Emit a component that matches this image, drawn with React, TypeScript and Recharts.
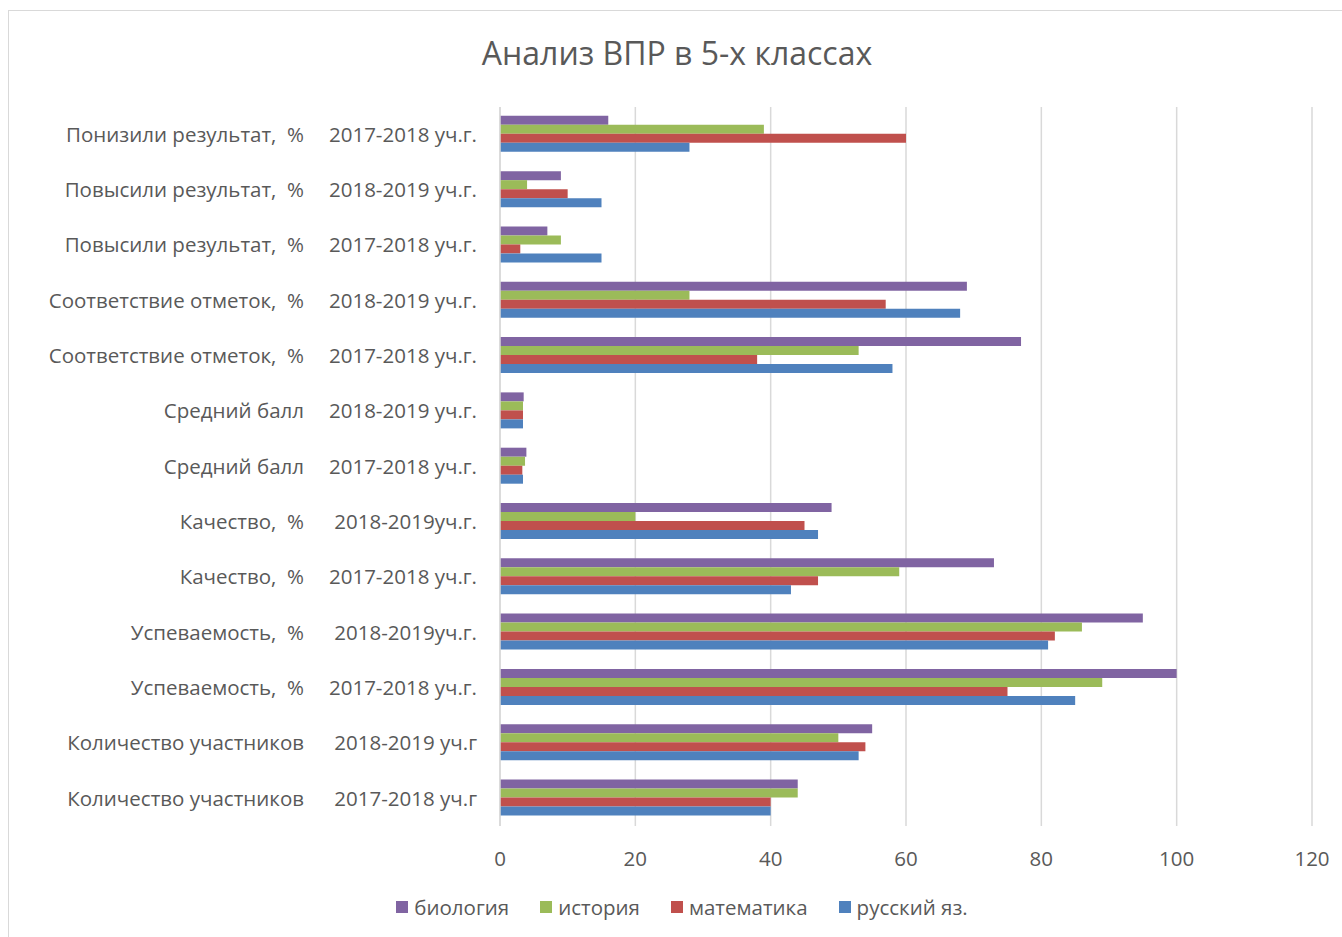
import { Bar, BarChart, CartesianGrid, Legend, XAxis, YAxis } from 'recharts'

const indicators = [
  'Понизили результат,  %',
  'Повысили результат,  %',
  'Повысили результат,  %',
  'Соответствие отметок,  %',
  'Соответствие отметок,  %',
  'Средний балл',
  'Средний балл',
  'Качество,  %',
  'Качество,  %',
  'Успеваемость,  %',
  'Успеваемость,  %',
  'Количество участников',
  'Количество участников',
]

const years = [
  '2017-2018 уч.г.',
  '2018-2019 уч.г.',
  '2017-2018 уч.г.',
  '2018-2019 уч.г.',
  '2017-2018 уч.г.',
  '2018-2019 уч.г.',
  '2017-2018 уч.г.',
  '2018-2019уч.г.',
  '2017-2018 уч.г.',
  '2018-2019уч.г.',
  '2017-2018 уч.г.',
  '2018-2019 уч.г',
  '2017-2018 уч.г',
]

const biology = [16, 9, 7, 69, 77, 3.5, 3.9, 49, 73, 95, 100, 55, 44]
const history = [39, 4, 9, 28, 53, 3.4, 3.7, 20, 59, 86, 89, 50, 44]
const math = [60, 10, 3, 57, 38, 3.4, 3.3, 45, 47, 82, 75, 54, 40]
const russian = [28, 15, 15, 68, 58, 3.4, 3.4, 47, 43, 81, 85, 53, 40]

const xTicks = [0, 20, 40, 60, 80, 100, 120]

const series = [
  { key: 'biology', name: 'биология', color: '#8064A2' },
  { key: 'history', name: 'история', color: '#9BBB59' },
  { key: 'math', name: 'математика', color: '#C0504D' },
  { key: 'russian', name: 'русский яз.', color: '#4F81BD' },
]

const data = indicators.map((name, i) => ({
  label: `${name} ${years[i]}`,
  biology: biology[i],
  history: history[i],
  math: math[i],
  russian: russian[i],
}))

const FONT = '"Open Sans", sans-serif'
const TEXT = '#595959'

function CategoryTick(props: any) {
  const { x, y, index } = props
  return (
    <g>
      <text
        x={x - 188}
        y={y}
        dy="0.35em"
        textAnchor="end"
        fontSize={20.5}
        fill={TEXT}
        fontFamily={FONT}
        style={{ whiteSpace: 'pre' }}
      >
        {indicators[index]}
      </text>
      <text x={x - 15} y={y} dy="0.35em" textAnchor="end" fontSize={20.5} fill={TEXT} fontFamily={FONT}>
        {years[index]}
      </text>
    </g>
  )
}

function LegendContent() {
  return (
    <div
      style={{
        height: 61,
        display: 'flex',
        justifyContent: 'center',
        alignItems: 'center',
        boxSizing: 'border-box',
        fontFamily: FONT,
        fontSize: 20.5,
        color: TEXT,
        gap: 31,
        paddingLeft: 52,
      }}
    >
      {series.map((s) => (
        <div key={s.key} style={{ display: 'flex', alignItems: 'center', gap: 6 }}>
          <span style={{ width: 12, height: 12, background: s.color, display: 'inline-block' }} />
          <span>{s.name}</span>
        </div>
      ))}
    </div>
  )
}

export default function App() {
  return (
    <div
      style={{
        position: 'fixed',
        left: 0,
        top: 0,
        width: 1342,
        height: 937,
        overflow: 'hidden',
        background: '#fff',
      }}
    >
      <div
        style={{
          position: 'absolute',
          left: 8,
          top: 10,
          width: 1400,
          height: 1000,
          border: '1px solid #d9d9d9',
        }}
      />
      <div
        style={{
          position: 'absolute',
          left: 0,
          top: 31,
          width: 1354,
          textAlign: 'center',
          fontFamily: FONT,
          fontSize: 32,
          color: TEXT,
        }}
      >
        Анализ ВПР в 5-х классах
      </div>
      <div style={{ position: 'absolute', left: 0, top: 0 }}>
        <BarChart
          width={1342}
          height={937}
          data={data}
          layout="vertical"
          margin={{ top: 107, right: 30, left: 0, bottom: 0 }}
          barCategoryGap="16%"
          barGap={0}
        >
          <CartesianGrid horizontal={false} stroke="#d9d9d9" strokeWidth={1.5} />
          <XAxis
            type="number"
            domain={[0, 120]}
            ticks={xTicks}
            axisLine={false}
            tickLine={false}
            height={50}
            tick={{ fontSize: 20.5, fill: TEXT, fontFamily: FONT }}
            tickMargin={19}
          />
          <YAxis
            type="category"
            dataKey="label"
            width={500}
            axisLine={{ stroke: '#d9d9d9', strokeWidth: 1.5 }}
            tickLine={false}
            interval={0}
            tick={<CategoryTick />}
          />
          <Legend verticalAlign="bottom" content={<LegendContent />} />
          {series.map((s) => (
            <Bar key={s.key} dataKey={s.key} name={s.name} fill={s.color} isAnimationActive={false} />
          ))}
        </BarChart>
      </div>
    </div>
  )
}
